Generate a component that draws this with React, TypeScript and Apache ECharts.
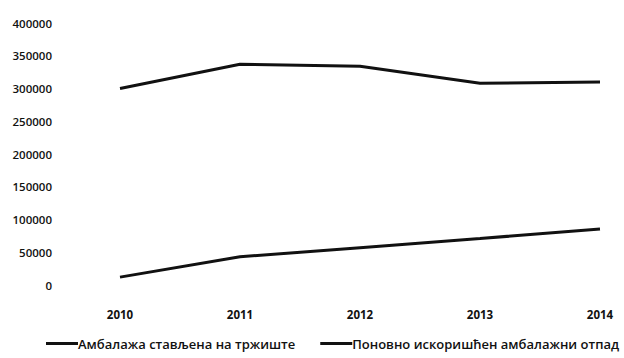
import React, { useEffect, useRef } from "react";
import * as echarts from "echarts";

const categories = ["2010", "2011", "2012", "2013", "2014"];
const seriesNames = ["Амбалажа стављена на тржиште", "Поновно искоришћен амбалажни отпад"];
const placedOnMarket = [300000, 337000, 334000, 308000, 310000];
const reused = [12000, 43000, 57000, 71000, 85500];

export default function App() {
  const ref = useRef<HTMLDivElement>(null);
  useEffect(() => {
    if (!ref.current) return;
    const chart = echarts.init(ref.current, null, { renderer: "svg" });
    const font = "'Open Sans', 'Noto Sans', sans-serif";
    chart.setOption({
      animation: false,
      backgroundColor: "#ffffff",
      grid: { left: 120, right: 24, top: 23, bottom: 73 },
      xAxis: {
        type: "category",
        data: categories,
        boundaryGap: false,
        axisLine: { show: false },
        axisTick: { show: false },
        splitLine: { show: false },
        axisLabel: {
          margin: 23,
          color: "#111",
          fontFamily: font,
          fontWeight: 700,
          fontSize: 11.5,
        },
      },
      yAxis: {
        type: "value",
        min: 0,
        max: 400000,
        interval: 50000,
        axisLine: { show: false },
        axisTick: { show: false },
        splitLine: { show: false },
        axisLabel: {
          margin: 68,
          color: "#111",
          fontFamily: font,
          fontWeight: 600,
          fontSize: 11.5,
          formatter: (v: number) => String(v),
        },
      },
      legend: {
        top: 337,
        left: 46,
        padding: 0,
        itemGap: 25,
        itemWidth: 32,
        itemHeight: 3,
        icon: "rect",
        textStyle: { color: "#111", fontFamily: font, fontSize: 13, fontWeight: 600, padding: [0, 0, 0, -5] },
        data: seriesNames,
      },
      series: [
        {
          name: seriesNames[0],
          type: "line",
          data: placedOnMarket,
          symbol: "none",
          lineStyle: { color: "#111", width: 3 },
          itemStyle: { color: "#111" },
        },
        {
          name: seriesNames[1],
          type: "line",
          data: reused,
          symbol: "none",
          lineStyle: { color: "#111", width: 3 },
          itemStyle: { color: "#111" },
        },
      ],
    });
    return () => chart.dispose();
  }, []);
  return <div ref={ref} style={{ width: 624, height: 358, position: "absolute", left: 0, top: 0 }} />;
}
